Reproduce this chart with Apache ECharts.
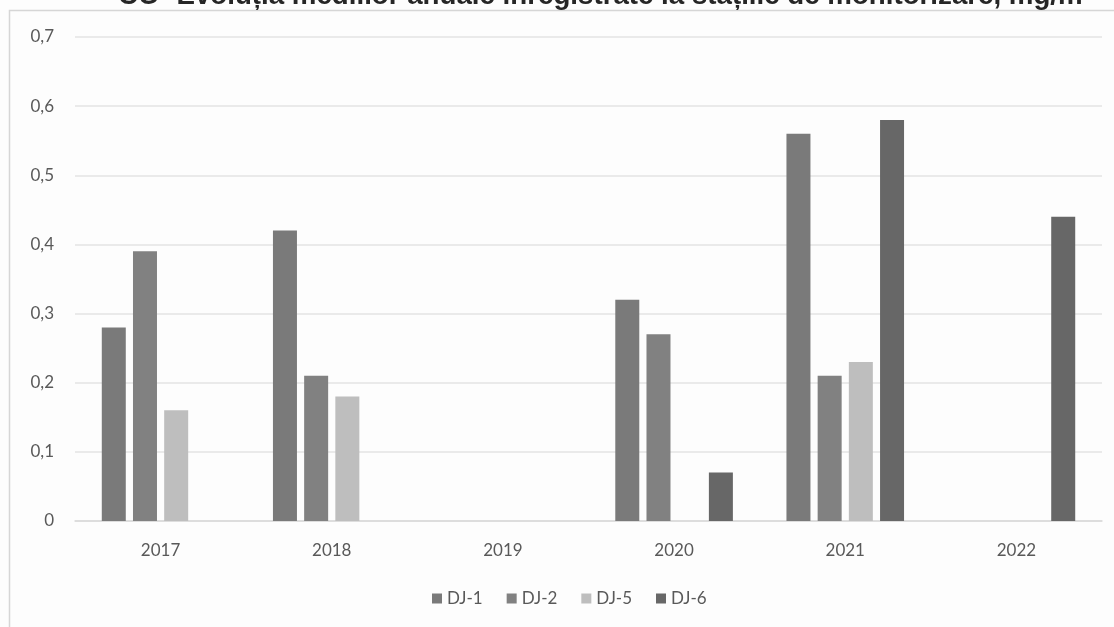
<!DOCTYPE html>
<html>
<head>
<meta charset="utf-8">
<style>
  html, body { margin: 0; padding: 0; background: #fdfdfd; }
  #chart { width: 1114px; height: 627px; }
</style>
<script src="https://cdn.jsdelivr.net/npm/echarts@6/dist/echarts.min.js"></script>
</head>
<body>
<div id="chart"></div>
<script>
// Annual CO means per monitoring station, mg/m³
const years = ['2017', '2018', '2019', '2020', '2021', '2022'];
const dj1 = [0.28, 0.42, null, 0.32, 0.56, null];
const dj2 = [0.39, 0.21, null, 0.27, 0.21, null];
const dj5 = [0.16, 0.18, null, null, 0.23, null];
const dj6 = [null, null, null, 0.07, 0.58, 0.44];
const yTicks = [0, 0.1, 0.2, 0.3, 0.4, 0.5, 0.6, 0.7];

const stations = [
  { name: 'DJ-1', data: dj1, color: '#7a7a7a' },
  { name: 'DJ-2', data: dj2, color: '#818181' },
  { name: 'DJ-5', data: dj5, color: '#bebebe' },
  { name: 'DJ-6', data: dj6, color: '#676767' }
];

const chart = echarts.init(document.getElementById('chart'), null, { renderer: 'canvas' });

chart.setOption({
  backgroundColor: '#fdfdfd',
  animation: false,
  title: {
    text: 'CO- Evoluția mediilor anuale înregistrate la stațiile de monitorizare, mg/m³',
    left: 113,
    top: -23,
    textStyle: {
      fontFamily: 'Liberation Sans',
      fontSize: 27.7,
      fontWeight: 'bold',
      color: '#262626'
    }
  },
  graphic: [{
    type: 'rect',
    shape: { x: 9.5, y: 10.5, width: 1200, height: 700 },
    style: { fill: null, stroke: '#d6d6d6', lineWidth: 1.5 },
    silent: true,
    z: -1
  }],
  legend: {
    bottom: 15,
    left: 427,
    itemWidth: 10,
    itemHeight: 10,
    itemGap: 24,
    icon: 'rect',
    textStyle: { fontFamily: 'Lato', fontSize: 17, color: '#595959', padding: [0, 0, 0, 0] },
    data: stations.map(s => s.name)
  },
  grid: { left: 75, right: 12, top: 37, bottom: 106, containLabel: false },
  xAxis: {
    type: 'category',
    data: years,
    axisLine: { show: true, lineStyle: { color: '#d9d9d9', width: 1.5 } },
    axisTick: { show: false },
    axisLabel: { fontFamily: 'Lato', fontSize: 17, color: '#595959', margin: 21 }
  },
  yAxis: {
    type: 'value',
    min: yTicks[0],
    max: yTicks[yTicks.length - 1],
    interval: 0.1,
    axisLine: { show: false },
    axisTick: { show: false },
    splitLine: { lineStyle: { color: '#e3e3e3', width: 1.5 } },
    axisLabel: {
      fontFamily: 'Lato',
      fontSize: 17,
      color: '#595959',
      margin: 21,
      formatter: v => {
        const t = yTicks.find(x => Math.abs(x - v) < 1e-9);
        return t === 0 ? '0' : String(t !== undefined ? t : v).replace('.', ',');
      }
    }
  },
  series: stations.map(s => ({
    name: s.name,
    type: 'bar',
    data: s.data,
    barWidth: 24,
    barGap: '30%',
    itemStyle: { color: s.color }
  }))
});
</script>
</body>
</html>
